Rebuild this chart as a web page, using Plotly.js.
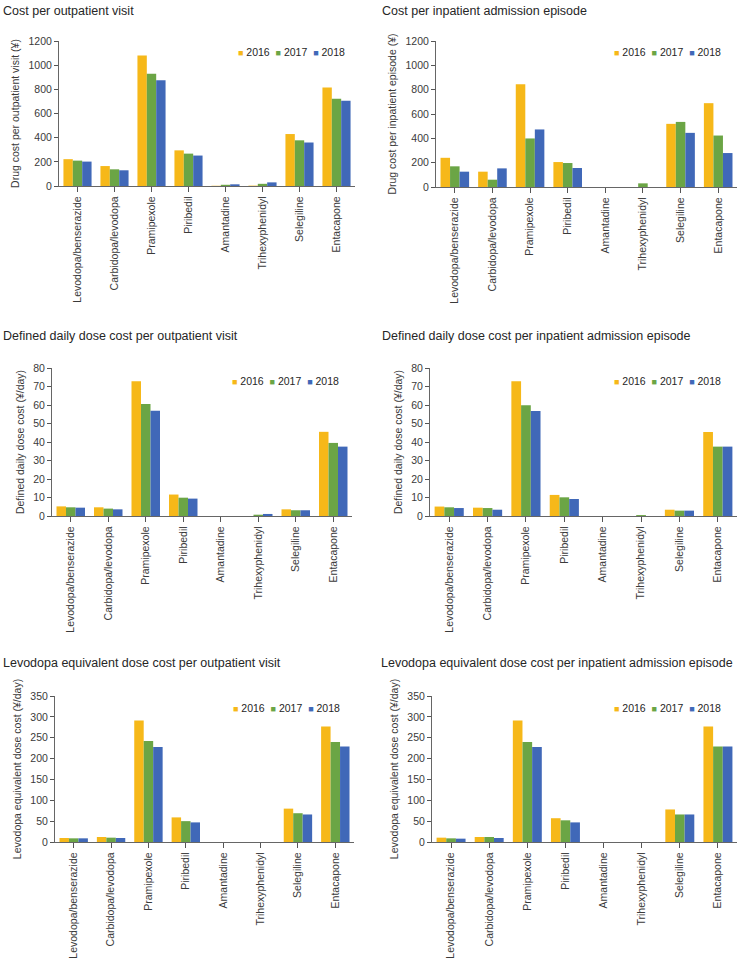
<!DOCTYPE html>
<html>
<head>
<meta charset="utf-8">
<script src="https://cdn.plot.ly/plotly-3.0.1.min.js"></script>
<style>
  html, body { margin: 0; padding: 0; background: #fff; }
  #chart { width: 738px; height: 963px; }
</style>
</head>
<body>
<div id="chart"></div>
<script>
// ---- Data ----
const drugs = ["Levodopa/benserazide", "Carbidopa/levodopa", "Pramipexole", "Piribedil",
               "Amantadine", "Trihexyphenidyl", "Selegiline", "Entacapone"];
const years = ["2016", "2017", "2018"];

// Panel 1: Cost per outpatient visit (¥)
const outCost2016 = [222, 165, 1080, 295, 2, 3, 430, 815];
const outCost2017 = [210, 138, 930, 268, 10, 18, 378, 722];
const outCost2018 = [202, 130, 875, 252, 14, 30, 360, 705];

// Panel 2: Cost per inpatient admission episode (¥)
const inCost2016 = [240, 126, 844, 205, 0, 0, 519, 689];
const inCost2017 = [170, 60, 399, 197, 0, 30, 535, 423];
const inCost2018 = [126, 153, 473, 156, 0, 0, 445, 279];

// Panel 3: DDD cost per outpatient visit (¥/day)
const outDDD2016 = [5.2, 4.7, 72.9, 11.6, 0, 0, 3.6, 45.5];
const outDDD2017 = [4.7, 4.0, 60.6, 9.9, 0, 0.7, 3.1, 39.5];
const outDDD2018 = [4.5, 3.6, 56.9, 9.4, 0, 1.1, 3.1, 37.5];

// Panel 4: DDD cost per inpatient admission episode (¥/day)
const inDDD2016 = [5.1, 4.5, 72.9, 11.4, 0, 0, 3.4, 45.4];
const inDDD2017 = [4.7, 4.3, 59.9, 10.1, 0, 0.5, 2.9, 37.5];
const inDDD2018 = [4.3, 3.4, 56.8, 9.2, 0, 0, 2.9, 37.5];

// Panel 5: LED cost per outpatient visit (¥/day)
const outLED2016 = [9.6, 12, 291, 59, 0, 0, 80, 277];
const outLED2017 = [8.8, 10.4, 242, 50, 0, 0, 69, 240];
const outLED2018 = [8.8, 9.6, 228, 47, 0, 0, 66, 229];

// Panel 6: LED cost per inpatient admission episode (¥/day)
const inLED2016 = [10.4, 12, 291, 57, 0, 0, 78, 277];
const inLED2017 = [8.8, 12, 240, 52, 0, 0, 66, 229];
const inLED2018 = [8.0, 9.6, 228, 47, 0, 0, 66, 229];

const panelTitles = [
  "Cost per outpatient visit",
  "Cost per inpatient admission episode",
  "Defined daily dose cost per outpatient visit",
  "Defined daily dose cost per inpatient admission episode",
  "Levodopa equivalent dose cost per outpatient visit",
  "Levodopa equivalent dose cost per inpatient admission episode"
];
const yTitles = [
  "Drug cost per outpatient visit (¥)",
  "Drug cost per inpatient episode (¥)",
  "Defined daily dose cost (¥/day)",
  "Defined daily dose cost (¥/day)",
  "Levodopa equivalent dose cost (¥/day)",
  "Levodopa equivalent dose cost (¥/day)"
];
const yMax = [1200, 1200, 80, 80, 350, 350];
const yStep = [200, 200, 10, 10, 50, 50];

const panelData = [
  [outCost2016, outCost2017, outCost2018],
  [inCost2016, inCost2017, inCost2018],
  [outDDD2016, outDDD2017, outDDD2018],
  [inDDD2016, inDDD2017, inDDD2018],
  [outLED2016, outLED2017, outLED2018],
  [inLED2016, inLED2017, inLED2018]
];

// ---- Styling / layout ----
const colors = ["#F6B819", "#6BA545", "#4068B8"];
const W = 738, H = 963;
// plot-area pixel boxes [x0, x1, yTop, yBottom]
const boxes = [
  [59, 355, 41, 186],
  [436, 737, 41, 187],
  [52, 352, 368, 516],
  [430, 737, 368, 516],
  [55, 354, 696, 842],
  [432, 737, 696, 842]
];
const titlePos = [[1, 11], [380, 11], [1, 336], [380, 336], [1, 663], [379, 663]];
const legendPos = [[236, 52], [612, 52], [230, 381], [612, 381], [231, 708], [612, 708]];

const FONT = "Liberation Sans, Arial, Helvetica, sans-serif";
const TXT = "#3a3a3a";
const traces = [];
const layout = {
  width: W, height: H,
  margin: {l: 0, r: 0, t: 0, b: 0},
  paper_bgcolor: "#ffffff",
  plot_bgcolor: "#ffffff",
  showlegend: false,
  barmode: "group",
  bargap: 0.24,
  bargroupgap: 0,
  font: {family: FONT, size: 10.5, color: TXT},
  annotations: []
};

boxes.forEach((b, i) => {
  const n = i === 0 ? "" : String(i + 1);
  const xa = "x" + n, ya = "y" + n;
  panelData[i].forEach((vals, k) => {
    traces.push({
      type: "bar",
      x: drugs,
      y: vals,
      name: years[k],
      xaxis: xa, yaxis: ya,
      marker: {color: colors[k], line: {width: 0}},
      hoverinfo: "x+y+name"
    });
  });
  layout["xaxis" + n] = {
    domain: [b[0] / W, b[1] / W],
    anchor: ya,
    type: "category",
    categoryorder: "array",
    categoryarray: drugs,
    range: [-0.5, 7.5],
    tickangle: -90,
    ticks: "outside", ticklen: 5, tickwidth: 1, tickcolor: "#555555",
    showline: true, linecolor: "#666666", linewidth: 1.2,
    showgrid: false, zeroline: false,
    tickfont: {family: FONT, size: 10.5, color: TXT},
    fixedrange: true
  };
  layout["yaxis" + n] = {
    domain: [1 - b[3] / H, 1 - b[2] / H],
    anchor: xa,
    range: [0, yMax[i]],
    dtick: yStep[i], tick0: 0,
    ticks: "outside", ticklen: 4, tickwidth: 1, tickcolor: "#555555",
    showline: true, linecolor: "#666666", linewidth: 1,
    showgrid: false, zeroline: false,
    tickfont: {family: FONT, size: 10.5, color: TXT},
    title: {text: yTitles[i], font: {family: FONT, size: 10.5, color: TXT}, standoff: 6},
    fixedrange: true
  };
  // panel title
  layout.annotations.push({
    xref: "paper", yref: "paper",
    x: titlePos[i][0] / W, y: 1 - titlePos[i][1] / H,
    xanchor: "left", yanchor: "middle",
    text: panelTitles[i], showarrow: false,
    font: {family: FONT, size: 12.5, color: "#262626"}
  });
  // legend
  const legText = years.map((yr, k) =>
    '<span style="color:' + colors[k] + ';font-size:9px">■</span> ' + yr).join("  ");
  layout.annotations.push({
    xref: "paper", yref: "paper",
    x: legendPos[i][0] / W, y: 1 - legendPos[i][1] / H,
    xanchor: "left", yanchor: "middle",
    text: legText, showarrow: false,
    font: {family: FONT, size: 10.5, color: "#262626"}
  });
});

Plotly.newPlot("chart", traces, layout, {displayModeBar: false, staticPlot: true});
</script>
</body>
</html>
